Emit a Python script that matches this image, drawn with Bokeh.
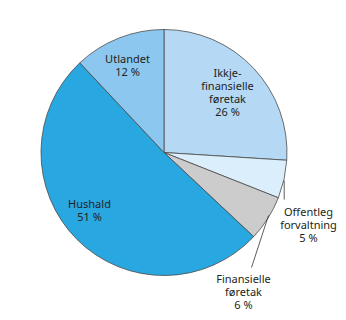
import numpy as np
from bokeh.plotting import figure
from bokeh.models import ColumnDataSource, Range1d
from bokeh.core.properties import value
from bokeh.embed import file_html
from bokeh.resources import INLINE

# Sector shares, clockwise from twelve o'clock
sectors = ["Ikkje-\nfinansielle\nføretak", "Offentleg\nforvaltning", "Finansielle\nføretak", "Hushald", "Utlandet"]
shares = [26, 5, 6, 51, 12]
colors = ["#b5d9f5", "#dbeefb", "#cccccc", "#29a7e1", "#8cc7ef"]

W, H = 346, 320
cx, cy, r = 163.5, H - 152, 123

frac = np.array(shares, dtype=float) / sum(shares)
cum = np.concatenate([[0], np.cumsum(frac)])
start = np.pi / 2 - cum[:-1] * 2 * np.pi
end = np.pi / 2 - cum[1:] * 2 * np.pi

p = figure(width=W, height=H, output_backend="svg", toolbar_location=None,
           x_range=Range1d(0, W), y_range=Range1d(0, H), min_border=0)
p.axis.visible = False
p.grid.visible = False
p.outline_line_color = None
p.background_fill_color = "white"

src = ColumnDataSource(dict(start=start, end=end, color=colors))
p.wedge(x=cx, y=cy, radius=r, start_angle="start", end_angle="end", direction="clock",
        fill_color="color", line_color="#4a4a4a", line_width=0.8, source=src)

# label block centres (pixel space, top-left origin); each line drawn on its own
label_pos = [(227, 91.5), (308, 224), (243, 290.5), (89, 209), (127, 64)]
line_step = 13
tx, ty, tt = [], [], []
for (bx, by), name, share in zip(label_pos, sectors, shares):
    lines = name.split("\n") + [f"{share} %"]
    top = by - line_step * (len(lines) - 1) / 2
    for i, ln in enumerate(lines):
        tx.append(bx)
        ty.append(H - (top + i * line_step))
        tt.append(ln)
p.text(x=tx, y=ty, text=tt, text_align="center", text_baseline="middle",
       text_font=value("Noto Sans"), text_font_size="11px", text_color="#231f20")

leaders = [((283.7, 180), (283.7, 199)), ((268, 215), (251, 267))]
p.segment(x0=[a[0] for a, b in leaders], y0=[H - a[1] for a, b in leaders],
          x1=[b[0] for a, b in leaders], y1=[H - b[1] for a, b in leaders],
          line_color="#333333", line_width=0.8)

open("out.html", "w").write(file_html(p, INLINE))
